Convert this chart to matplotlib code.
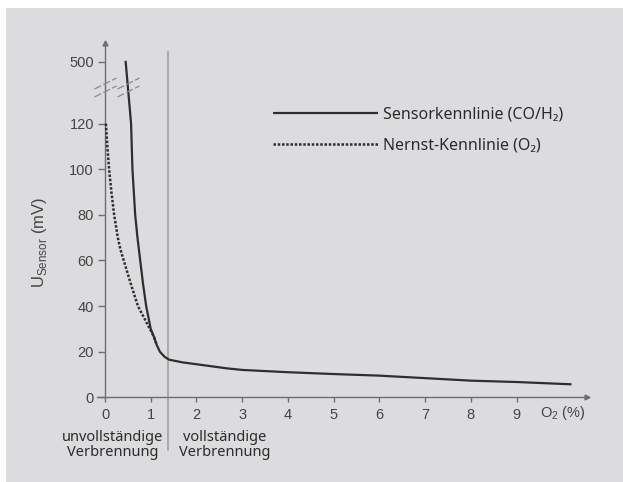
import numpy as np
import matplotlib
matplotlib.use('Agg')
import matplotlib.pyplot as plt
from matplotlib.path import Path
from matplotlib.patches import Rectangle

# Sensorkennlinie (CO/H2)
sensor_x = [0.45, 0.57, 0.60, 0.66, 0.71, 0.77, 0.83, 0.90, 1.00, 1.07, 1.13,
            1.20, 1.30, 1.40, 1.70, 2.00, 2.66, 3.00, 4.00, 5.00, 6.00, 7.00,
            8.00, 9.00, 10.20]
sensor_y = [510, 120, 100, 80, 70, 60, 50, 40, 30, 26.5, 23,
            20, 17.8, 16.5, 15.3, 14.5, 12.7, 12.0, 11.0, 10.2, 9.5, 8.4,
            7.3, 6.7, 5.7]

# Nernst-Kennlinie (O2)
nernst_x = [0.02, 0.05, 0.09, 0.14, 0.20, 0.28, 0.34, 0.41, 0.56, 0.72, 0.98, 1.07, 1.13]
nernst_y = [120, 110, 100, 90, 80, 70, 64.6, 60, 50, 40, 30, 26.5, 23]

x_ticks = list(range(10))
y_ticks = [0, 20, 40, 60, 80, 100, 120, 500]
labels = ['Sensorkennlinie (CO/H₂)', 'Nernst-Kennlinie (O₂)']
grenze_x = 1.38     # Grenze unvollständige / vollständige Verbrennung
break_y = 260       # Achsenunterbrechung

# gebrochene y-Achse: oberhalb BRK stark gestaucht
BRK = 130
K = 0.0462


def fwd(y):
    y = np.asarray(y, float)
    return np.where(y <= BRK, y, BRK + (y - BRK) * K)


def inv(y):
    y = np.asarray(y, float)
    return np.where(y <= BRK, y, BRK + (y - BRK) / K)


plt.rcParams['mathtext.fontset'] = 'custom'
plt.rcParams['mathtext.rm'] = 'Liberation Sans'
plt.rcParams['font.family'] = ['Liberation Sans', 'DejaVu Sans']

axis_col = '#6e6e6e'
text_col = '#2b2b2b'
tick_col = '#444444'
line_col = '#2e2e2e'
bg_col = '#dcdcde'

fig = plt.figure(figsize=(6.23, 4.82), dpi=100)
fig.patches.append(Rectangle((6 / 623, 0), 1, 474 / 482, transform=fig.transFigure,
                             facecolor=bg_col, edgecolor='none', zorder=-10))

ax = fig.add_axes([97 / 623, 84.7 / 482, 489.7 / 623, 354.6 / 482])
ax.set_facecolor('none')
ax.set_yscale('function', functions=(fwd, inv))
ax.set_xlim(-0.175, 10.531)
ax.set_ylim(0, float(inv(155.5)))

ax.plot(sensor_x, sensor_y, color=line_col, lw=1.6, label=labels[0], zorder=3,
        solid_capstyle='butt')
ax.plot(nernst_x, nernst_y, color=line_col, lw=1.8, ls=(0, (1, 0.7)), label=labels[1],
        zorder=3)

for s in ['top', 'right']:
    ax.spines[s].set_visible(False)
ax.spines['left'].set_position(('data', 0))
for s in ['left', 'bottom']:
    ax.spines[s].set_color(axis_col)
    ax.spines[s].set_linewidth(1.0)

ax.plot([0], [1], marker='^', ms=3.5, color=axis_col, transform=ax.get_xaxis_transform(),
        clip_on=False)
ax.plot([1], [0], marker='>', ms=3.5, color=axis_col, transform=ax.get_yaxis_transform(),
        clip_on=False)

ax.set_xticks(x_ticks)
ax.set_yticks(y_ticks)
ax.set_yticklabels([str(v) for v in y_ticks])
ax.tick_params(axis='x', direction='out', length=3.6, width=1, color=axis_col, pad=4,
               labelsize=10.5, labelcolor=tick_col)
ax.tick_params(axis='y', direction='out', length=4.8, width=1, color=axis_col, pad=3.2,
               labelsize=10.5, labelcolor=tick_col)

# Unterbrechungszeichen
verts, codes = [], []
for off in (4, -4):
    p0 = np.array([-11, -5.5 + off])
    p1 = np.array([11, 5.5 + off])
    for a, b in [(0, 0.3), (0.4, 0.7), (0.8, 1.0)]:
        verts += [p0 + (p1 - p0) * a, p0 + (p1 - p0) * b]
        codes += [Path.MOVETO, Path.LINETO]
brk_marker = Path(verts, codes)
curve_x = np.interp(fwd(break_y), fwd(sensor_y)[::-1], sensor_x[::-1])
for bx in (0, curve_x):
    ax.plot([bx], [break_y], marker=brk_marker, ms=15.8, mew=0.9, mec='#8a8a8a',
            mfc='none', ls='none', clip_on=False, zorder=4)

ax.axvline(grenze_x, ymin=-0.149, ymax=0.975, color='#9b9b9b', lw=1.1, clip_on=False)

ax.legend(loc='upper left', bbox_to_anchor=(273 / 623, 1 - 106.3 / 482),
          bbox_transform=fig.transFigure, frameon=False, handlelength=6.56,
          handletextpad=0.31, labelspacing=0.98, borderpad=0, borderaxespad=0,
          labelcolor=text_col, prop={'family': ['Noto Sans', 'DejaVu Sans'], 'size': 11.5})

fig.text(40 / 623, 1 - 242 / 482, r'U$_{\mathrm{Sensor}}$ (mV)', rotation=90,
         ha='center', va='center', fontsize=12, color=tick_col)
ax.annotate('O$_2$ (%)', xy=(9.5, 0), xytext=(0, -15.7 * 0.72), textcoords='offset points',
            ha='left', va='center', fontsize=10.5, color=tick_col)

fig.text(112.5 / 623, 1 - 445 / 482, 'unvollständige\nVerbrennung', ha='center',
         va='center', multialignment='center', fontsize=10.5, color=text_col,
         family=['Noto Sans', 'DejaVu Sans'], linespacing=1.05)
fig.text(224.5 / 623, 1 - 445 / 482, 'vollständige\nVerbrennung', ha='center',
         va='center', multialignment='center', fontsize=10.5, color=text_col,
         family=['Noto Sans', 'DejaVu Sans'], linespacing=1.05)

fig.savefig('out.png', dpi=100)
